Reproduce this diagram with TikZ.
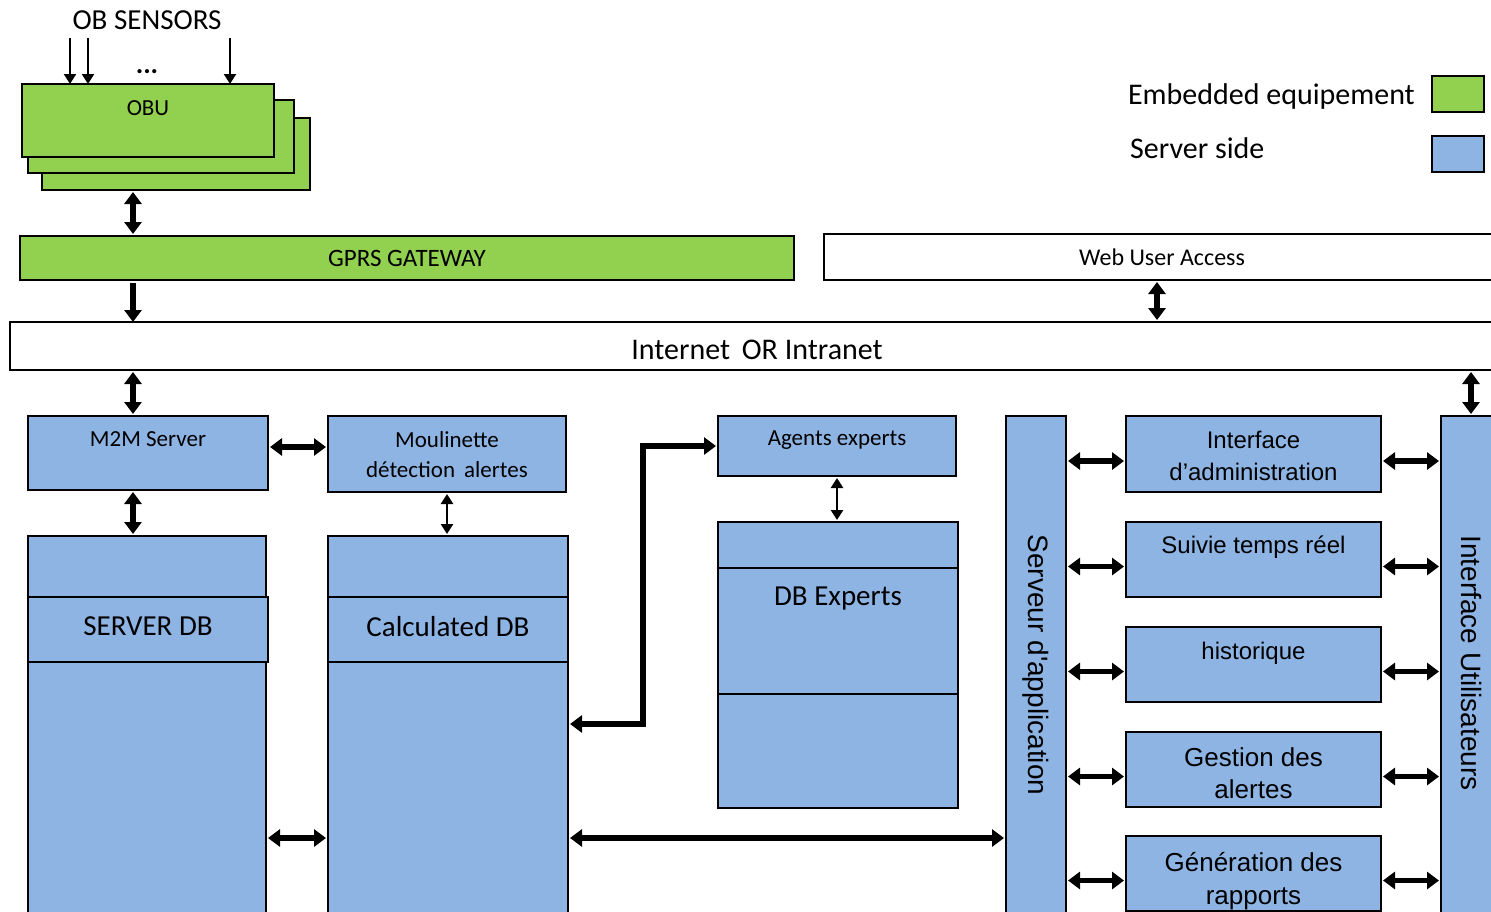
\documentclass[tikz,border=0pt]{standalone}
\usepackage{fontspec}
\setmainfont{Carlito}
\newfontfamily\arialfont{Liberation Sans}
\usetikzlibrary{positioning,arrows.meta}

\definecolor{embgreen}{HTML}{92D050}
\definecolor{srvblue}{HTML}{8EB4E3}
\newcommand{\fs}[2]{\fontsize{#1}{#2}\selectfont}

\tikzset{
  box/.style={draw, line width=1.6pt, inner sep=0pt, outer sep=0pt, anchor=north west},
  gbox/.style={box, fill=embgreen},
  bbox/.style={box, fill=srvblue},
  wbox/.style={box, fill=white},
  txt/.style={inner sep=0pt, align=center},
  big/.style={{Triangle[length=12pt,width=17pt]}-{Triangle[length=12pt,width=17pt]}, line width=5.5pt, shorten <=2pt, shorten >=2pt},
  bigone/.style={-{Triangle[length=12pt,width=17pt]}, line width=5.5pt, shorten <=3pt},
  small/.style={{Triangle[length=10pt,width=12pt]}-{Triangle[length=10pt,width=12pt]}, line width=2.5pt, shorten <=2pt, shorten >=2pt},
  sensor/.style={-{Triangle[length=10pt,width=12pt]}, line width=2.2pt},
  vtext/.style={txt, rotate=-90, font=\arialfont\fs{28}{32}},
}

\begin{document}
\begin{tikzpicture}[x=1pt,y=-1pt]
\useasboundingbox (0,0) rectangle (1491,911);
\clip (0,0) rectangle (1491,911);

% embedded side
\node[txt, font=\fs{29}{33}] (sens) at (147,20) {OB SENSORS};
\node[gbox, minimum width=268pt, minimum height=72pt] (obu3) at (42,118) {};
\node[gbox, minimum width=266pt, minimum height=73pt] (obu2) at (28,100) {};
\node[gbox, minimum width=252pt, minimum height=73pt] (obu) at (22,84) {};
\node[txt, font=\fs{23}{27}, below=16pt of obu.north] {OBU};
\node[txt, font=\fs{28}{32}\bfseries] at (147,72) {...};
\coordinate (s1) at (70,38);
\coordinate (s2) at (88,38);
\coordinate (s3) at (230,38);
\foreach \s in {s1,s2,s3}
  \draw[sensor] (\s) -- (\s |- obu.north);

\node[gbox, minimum width=774pt, minimum height=44pt, font=\fs{25}{29}] (gprs) at (20,236) {GPRS GATEWAY};
\node[wbox, minimum width=680pt, minimum height=46pt] (web) at (824,234) {};
\node[txt, font=\fs{24}{28}] at (1162,257) {Web User Access};
\node[wbox, minimum width=1500pt, minimum height=48pt] (net) at (10,322) {};
\node[txt, font=\fs{30}{34}] at (757,350) {Internet\, OR Intranet};

% legend
\node[gbox, minimum width=52pt, minimum height=36pt] (legg) at (1432,76) {};
\node[bbox, minimum width=52pt, minimum height=36pt] (legb) at (1432,136) {};
\node[txt, anchor=east, font=\fs{30}{34}] at (1415,96) {Embedded equipement};
\node[txt, anchor=west, font=\fs{30}{34}] at (1130,148) {Server side};

% server side
\node[bbox, minimum width=240pt, minimum height=74pt] (m2m) at (28,416) {};
\node[txt, font=\fs{23}{27}, below=15pt of m2m.north] {M2M Server};
\node[bbox, minimum width=238pt, minimum height=76pt] (moul) at (328,416) {};
\node[txt, font=\fs{23}{30}, below=15pt of moul.north] {Moulinette\\détection\, alertes};
\node[bbox, minimum width=238pt, minimum height=60pt] (agents) at (718,416) {};
\node[txt, font=\fs{23}{27}, below=15pt of agents.north] {Agents experts};

\node[bbox, minimum width=238pt, minimum height=400pt] (srvdb) at (28,536) {};
\node[bbox, minimum width=240pt, minimum height=65pt] (srvband) at (28,597) {};
\node[txt, font=\fs{29}{33}, below=19pt of srvband.north] {SERVER DB};
\node[bbox, minimum width=240pt, minimum height=400pt] (calcdb) at (328,536) {};
\node[bbox, minimum width=240pt, minimum height=65pt] (calcband) at (328,597) {};
\node[txt, font=\fs{29}{33}, below=19pt of calcband.north] {Calculated DB};
\node[bbox, minimum width=240pt, minimum height=286pt] (dbx) at (718,522) {};
\node[bbox, minimum width=240pt, minimum height=126pt] (dbxband) at (718,568) {};
\node[txt, font=\fs{29}{33}, below=19pt of dbxband.north] {DB Experts};

\node[bbox, minimum width=60pt, minimum height=520pt] (appsrv) at (1006,416) {};
\path (appsrv.north) ++(0,249) node[vtext] {Serveur d\textquotesingle application};
\node[bbox, minimum width=60pt, minimum height=520pt] (iu) at (1441,416) {};
\path (iu.north) ++(0,247) node[vtext] {Interface Utilisateurs};

\node[bbox, minimum width=255pt, minimum height=76pt] (adm) at (1126,416) {};
\node[txt, font=\arialfont\fs{24}{32}, below=15pt of adm.north] {Interface\\d’administration};
\node[bbox, minimum width=255pt, minimum height=75pt] (rt) at (1126,522) {};
\node[txt, font=\arialfont\fs{24}{32}, below=14pt of rt.north] {Suivie temps réel};
\node[bbox, minimum width=255pt, minimum height=75pt] (hist) at (1126,627) {};
\node[txt, font=\arialfont\fs{24}{32}, below=15pt of hist.north] {historique};
\node[bbox, minimum width=255pt, minimum height=75pt] (alrt) at (1126,732) {};
\node[txt, font=\arialfont\fs{26}{32}, below=15pt of alrt.north] {Gestion des\\alertes};
\node[bbox, minimum width=255pt, minimum height=75pt] (rep) at (1126,836) {};
\node[txt, font=\arialfont\fs{26}{33}, below=16pt of rep.north] {Génération des\\rapports};

% connectors
\coordinate (lcol) at (133,0);
\coordinate (wcol) at (1157,0);
\coordinate (brow) at (0,838);
\coordinate (krow) at (0,724);
\draw[big] (lcol |- obu3.south) -- (lcol |- gprs.north);
\draw[bigone] (lcol |- gprs.south) -- (lcol |- net.north);
\draw[big] (wcol |- web.south) -- (wcol |- net.north);
\draw[big] (lcol |- net.south) -- (lcol |- m2m.north);
\draw[big] (iu.north |- net.south) -- (iu.north);
\draw[big] (lcol |- m2m.south) -- (lcol |- srvdb.north);
\draw[big] ([yshift=6pt]m2m.east) -- ([yshift=6pt]m2m.east -| moul.west);
\draw[small] (moul.south) -- (moul.south |- calcdb.north);
\draw[small] (agents.south) -- (agents.south |- dbx.north);
\draw[big] (agents.west) -- ++(-75,0) |- (calcdb.east |- krow);
\draw[big] (srvdb.east |- brow) -- (calcdb.west |- brow);
\draw[big] (calcdb.east |- brow) -- (appsrv.west |- brow);
\foreach \b in {adm,rt,hist,alrt,rep} {
  \draw[big] ([yshift=-7pt]\b.west -| appsrv.east) -- ([yshift=-7pt]\b.west);
  \draw[big] ([yshift=-7pt]\b.east) -- ([yshift=-7pt]\b.east -| iu.west);
}
\end{tikzpicture}
\end{document}
